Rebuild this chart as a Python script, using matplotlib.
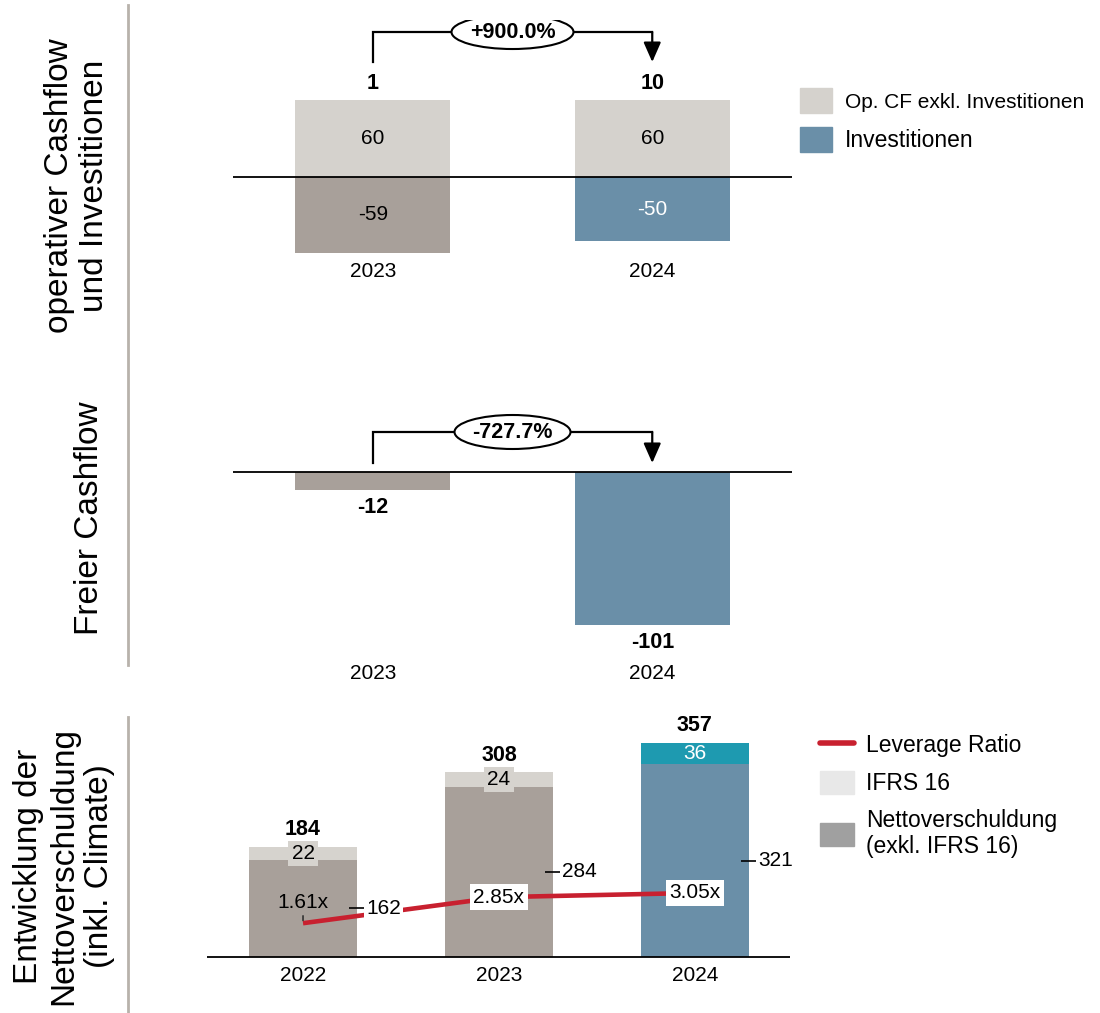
import matplotlib
matplotlib.use("Agg")
import matplotlib.pyplot as plt
from matplotlib.patches import Patch, Ellipse
from matplotlib.lines import Line2D
from matplotlib import transforms

plt.rcParams['font.family'] = ['Liberation Sans', 'DejaVu Sans']

W, H, DPI = 1100, 1013, 100

# ---------------- data ----------------
cf_years = ['2023', '2024']
op_cf = [60, 60]                 # Op. CF exkl. Investitionen
investitionen = [-59, -50]
op_cf_change = '+900.0%'

fcf = [-12, -101]                # Freier Cashflow
fcf_change = '-727.7%'

debt_years = ['2022', '2023', '2024']
net_debt = [162, 284, 321]       # Nettoverschuldung (exkl. IFRS 16)
ifrs16 = [22, 24, 36]
leverage = [1.61, 2.85, 3.05]

# ---------------- colours ----------------
C_OPCF = '#d5d2cd'
C_PRIOR = '#a8a09a'
C_BLUE = '#6a8fa8'
C_TEAL = '#1e9ab0'
C_RED = '#c8202f'
C_IFRS = '#d6d3ce'
C_RULE = '#b8b2ab'
FS = 15

fig = plt.figure(figsize=(W / DPI, H / DPI), dpi=DPI)


def px_axes(x0, x1, y0, y1):
    """Axes placed by pixel box (origin top-left)."""
    return fig.add_axes([x0 / W, 1 - y1 / H, (x1 - x0) / W, (y1 - y0) / H])


def scale_y(ax, zero_px, ppu, y0, y1):
    ax.set_ylim((zero_px - y1) / ppu, (zero_px - y0) / ppu)


def clean(ax, labels, pad):
    for s in ax.spines.values():
        s.set_visible(False)
    ax.set_yticks([])
    ax.set_xticks(range(len(labels)), labels)
    ax.tick_params(axis='x', length=0, labelsize=FS, pad=pad)


def change_bracket(ax, ppu, anchors, start_px, level_px, text, ell_w, ell_h):
    x0, x1 = 0, 1
    y_start0 = anchors[0] + start_px / ppu
    y_start1 = anchors[1] + start_px / ppu
    y_level = max(anchors) + level_px / ppu
    ax.plot([x0, x0, x1], [y_start0, y_level, y_level], color='black',
            lw=1.6, solid_joinstyle='miter', zorder=3)
    ax.annotate('', xy=(x1, y_start1), xytext=(x1, y_level),
                arrowprops=dict(arrowstyle='-|>,head_length=0.75,head_width=0.33',
                                mutation_scale=16, color='black', lw=1.6,
                                shrinkA=0, shrinkB=0), zorder=3)
    xm = (x0 + x1) / 2
    tr = fig.dpi_scale_trans + transforms.ScaledTranslation(xm, y_level, ax.transData)
    ell = Ellipse((0, 0), ell_w / DPI, ell_h / DPI, transform=tr,
                  facecolor='white', edgecolor='black', lw=1.5, zorder=4)
    ax.add_artist(ell)
    ax.text(xm, y_level, text, ha='center', va='center', fontsize=15.5,
            fontweight='bold', zorder=5)


# ---------------- operativer Cashflow und Investitionen ----------------
ax1 = px_axes(233, 792, 20, 258)
PPU1 = 1.283
x = list(range(len(cf_years)))
bw = 0.556
ax1.set_xlim(-0.5, 1.5)
scale_y(ax1, 177, PPU1, 20, 258)
ax1.bar(x, op_cf, bw, color=C_OPCF, zorder=2)
ax1.bar(x, investitionen, bw, color=[C_PRIOR, C_BLUE], zorder=2)
ax1.axhline(0, color='black', lw=1.3, zorder=3)
for i in x:
    ax1.text(i, op_cf[i] / 2, f'{op_cf[i]}', ha='center', va='center', fontsize=FS)
    ax1.text(i, investitionen[i] / 2, f'{investitionen[i]}', ha='center', va='center',
             fontsize=FS, color='black' if i == 0 else 'white')
    net = op_cf[i] + investitionen[i]
    ax1.annotate(f'{net}', xy=(i, op_cf[i]), xytext=(0, 17), textcoords='offset pixels',
                 ha='center', va='center', fontsize=15.5, fontweight='bold')
change_bracket(ax1, PPU1, [max(v, 0) for v in op_cf], 38, 68, op_cf_change, 122, 34)
clean(ax1, cf_years, 3)

fig.legend(handles=[Patch(color=C_OPCF), Patch(color=C_BLUE)],
           labels=['Op. CF exkl. Investitionen', 'Investitionen'],
           loc='upper left', bbox_to_anchor=(800 / W, 1 - 88 / H),
           frameon=False, fontsize=16.5, handlelength=1.4, handleheight=1.3,
           handletextpad=0.55, labelspacing=0.62, borderpad=0, borderaxespad=0)
leg1 = fig.legends[-1]
leg1.get_texts()[0].set_fontsize(15)

# ---------------- Freier Cashflow ----------------
ax2 = px_axes(233, 792, 400, 660)
PPU2 = 1.515
ax2.set_xlim(-0.5, 1.5)
scale_y(ax2, 472, PPU2, 400, 660)
ax2.bar(x, fcf, bw, color=[C_PRIOR, C_BLUE], zorder=2)
ax2.axhline(0, color='black', lw=1.3, zorder=3)
for i in x:
    ax2.annotate(f'{fcf[i]}', xy=(i, fcf[i]), xytext=(0, -17), textcoords='offset pixels',
                 ha='center', va='center', fontsize=15.5, fontweight='bold')
change_bracket(ax2, PPU2, [max(v, 0) for v in fcf], 9, 40, fcf_change, 116, 34)
clean(ax2, cf_years, 3)

# ---------------- Nettoverschuldung ----------------
ax3 = px_axes(207, 790, 700, 962)
PPU3 = 0.6
xd = list(range(len(debt_years)))
bw3 = 0.55
ax3.set_xlim(-0.49, 2.485)
scale_y(ax3, 957, PPU3, 700, 962)
ax3.bar(xd, net_debt, bw3, color=[C_PRIOR, C_PRIOR, C_BLUE], zorder=2)
ax3.bar(xd, ifrs16, bw3, bottom=net_debt, color=[C_IFRS, C_IFRS, C_TEAL], zorder=2)
ax3.axhline(0, color='black', lw=1.3, zorder=3)
ax3.plot([i + bw3 / 2 for i in xd], [v / 2 for v in net_debt], linestyle='none',
         marker='_', ms=11, mew=1.2, color='black', zorder=4)
for i in xd:
    total = net_debt[i] + ifrs16[i]
    ax3.annotate(f'{total}', xy=(i, total), xytext=(0, 17), textcoords='offset pixels',
                 ha='center', va='center', fontsize=15.5, fontweight='bold')
    if i < 2:
        ax3.text(i, net_debt[i] + ifrs16[i] / 2, f'{ifrs16[i]}', ha='center', va='center',
                 fontsize=FS, zorder=4,
                 bbox=dict(facecolor=C_IFRS, edgecolor='none', pad=2.2))
    else:
        ax3.text(i, net_debt[i] + ifrs16[i] / 2, f'{ifrs16[i]}', ha='center', va='center',
                 fontsize=FS, color='white', zorder=4)
clean(ax3, debt_years, 3)

axl = ax3.twinx()
scale_y(axl, 957, 21.0, 700, 962)
axl.set_axis_off()
axl.plot(xd, leverage, color=C_RED, lw=3.3, solid_capstyle='butt', zorder=2)
for i in xd:
    axl.annotate(f'{net_debt[i]}', xy=(i + bw3 / 2, net_debt[i] / 2), xycoords=ax3.transData,
                 xytext=(9, 0), textcoords='offset pixels', ha='left', va='center',
                 fontsize=FS, zorder=4,
                 bbox=dict(facecolor='white', edgecolor='none', pad=1.5))
    if i == 0:
        axl.annotate(f'{leverage[i]:.2f}x', xy=(i, leverage[i]), xytext=(0, 21),
                     textcoords='offset pixels', ha='center', va='center', fontsize=FS,
                     zorder=4,
                     arrowprops=dict(arrowstyle='-', color='#333333', lw=1.2,
                                     shrinkA=1, shrinkB=2))
    else:
        axl.text(i, leverage[i], f'{leverage[i]:.2f}x', ha='center', va='center',
                 fontsize=FS, zorder=4,
                 bbox=dict(facecolor='white', edgecolor='none', pad=2.5))

fig.legend(handles=[Line2D([], [], color=C_RED, lw=4, solid_capstyle='round'),
                    Patch(color='#e8e8e8'), Patch(color='#a0a0a0')],
           labels=['Leverage Ratio', 'IFRS 16', 'Nettoverschuldung\n(exkl. IFRS 16)'],
           loc='upper left', bbox_to_anchor=(820 / W, 1 - 733 / H),
           frameon=False, fontsize=16.5, handlelength=1.5, handleheight=1.2,
           handletextpad=0.5, labelspacing=0.58, borderpad=0, borderaxespad=0)

# ---------------- row titles and rules ----------------
fig.text(77 / W, 1 - 186 / H, 'operativer Cashflow\nund Investitionen', rotation=90,
         ha='center', va='center', fontsize=24, multialignment='center')
fig.text(90 / W, 1 - 518 / H, 'Freier Cashflow', rotation=90,
         ha='center', va='center', fontsize=24)
fig.text(64 / W, 1 - 866 / H, 'Entwicklung der\nNettoverschuldung\n(inkl. Climate)',
         rotation=90, ha='center', va='center', fontsize=24, multialignment='center')
fig.add_artist(Line2D([128 / W] * 2, [1 - 5 / H, 1 - 665 / H], color=C_RULE, lw=2))
fig.add_artist(Line2D([128 / W] * 2, [1 - 717 / H, 0], color=C_RULE, lw=2))

fig.savefig('out.png', dpi=DPI)
